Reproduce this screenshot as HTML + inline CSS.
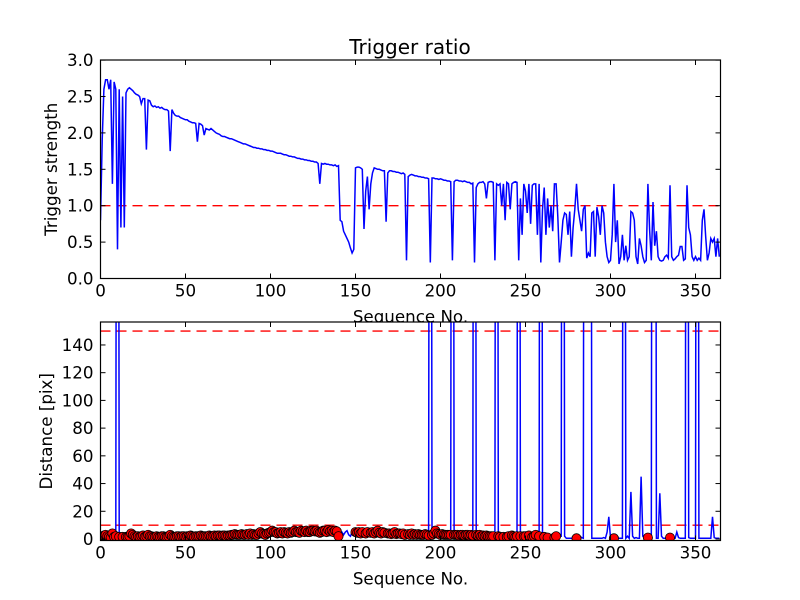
<!DOCTYPE html>
<html><head><meta charset="utf-8"><style>
html,body{margin:0;padding:0;background:#fff;}
svg{display:block;font-family:"DejaVu Sans","Liberation Sans",sans-serif;}
</style></head><body>
<svg id="fig" width="800" height="600" viewBox="0 0 800 600" xmlns="http://www.w3.org/2000/svg">
<defs>
<clipPath id="clipTop"><rect x="100.5" y="60" width="620" height="218.5"/></clipPath>
<clipPath id="clipBot"><rect x="100.5" y="322" width="620" height="218.5"/></clipPath>
</defs>
<rect x="0" y="0" width="800" height="600" fill="#fff"/>
<text x="410" y="54" font-size="20" text-anchor="middle">Trigger ratio</text>
<g id="topAx"></g>
<g id="botAx"></g>
</svg>
<script>
const strength = [
0.8,1.9,2.6,2.73,2.73,2.6,2.73,1.3,2.7,2.6,
0.4,2.6,0.7,2.5,0.7,2.55,2.6,2.62,2.6,2.58,
2.55,2.53,2.52,2.5,2.4,2.47,2.47,1.77,2.45,2.44,
2.38,2.36,2.37,2.35,2.36,2.34,2.35,2.33,2.32,2.32,
2.3,1.75,2.32,2.27,2.24,2.23,2.23,2.21,2.2,2.19,
2.18,2.18,2.16,2.15,2.14,2.14,2.13,1.88,2.13,2.12,
2.1,1.97,2.06,2.05,2.04,2.06,2.04,2.02,2.0,1.99,
1.98,1.96,1.95,1.95,1.94,1.93,1.92,1.92,1.91,1.9,
1.89,1.88,1.87,1.86,1.85,1.85,1.84,1.83,1.82,1.81,
1.8,1.8,1.79,1.79,1.78,1.78,1.77,1.77,1.76,1.76,
1.75,1.75,1.74,1.73,1.72,1.72,1.72,1.71,1.7,1.7,
1.69,1.68,1.68,1.67,1.67,1.66,1.65,1.65,1.64,1.64,
1.63,1.63,1.62,1.62,1.61,1.61,1.6,1.6,1.58,1.3,
1.58,1.57,1.58,1.57,1.57,1.56,1.56,1.55,1.56,1.54,
1.55,0.8,0.78,0.65,0.6,0.55,0.5,0.42,0.35,0.4,
1.52,1.53,1.53,1.52,1.5,0.68,1.2,1.4,0.95,1.3,
1.45,1.52,1.51,1.5,1.5,1.49,1.48,1.48,0.78,1.45,
1.48,1.48,1.47,1.47,1.46,1.46,1.45,1.44,1.45,1.43,
0.25,1.4,1.42,1.43,1.42,1.41,1.41,1.4,1.4,1.39,
1.39,1.38,1.38,1.37,0.22,1.38,1.38,1.37,1.37,1.36,
1.37,1.36,1.35,1.35,1.34,1.34,1.33,0.25,1.33,1.35,
1.35,1.34,1.34,1.33,1.34,1.33,1.32,1.32,1.3,1.31,
0.22,1.25,1.3,1.32,1.32,1.33,1.3,1.1,1.32,1.33,
1.33,1.32,0.25,1.3,1.28,
1.3,1.0,1.3,0.8,1.32,1.3,0.95,1.3,1.32,1.33,
1.32,0.25,1.1,0.6,1.3,1.2,0.9,1.3,0.75,1.28,
1.3,1.3,0.6,1.3,0.22,0.95,1.25,0.6,1.1,0.7,
1.0,0.65,1.3,1.3,0.85,0.22,0.5,0.8,0.9,0.88,
0.6,0.92,0.3,0.7,0.95,1.3,0.95,0.8,0.65,0.95,
1.0,0.28,0.35,0.3,0.9,0.92,0.3,0.98,0.85,0.6,
1.0,0.9,0.5,0.3,0.22,
0.25,0.6,1.3,0.5,0.8,0.2,0.3,0.6,0.25,0.45,
0.25,0.3,0.92,0.9,0.8,0.3,0.2,0.55,0.45,0.3,
0.22,0.25,1.3,0.67,0.25,1.05,0.45,0.65,0.3,0.25,
0.24,0.25,0.3,0.32,0.28,1.28,0.3,0.25,0.27,0.3,
0.32,0.44,0.44,0.25,0.27,1.28,0.7,0.6,0.3,0.25,
0.3,0.25,0.28,0.25,0.8,0.95,0.57,0.25,0.35,0.55,
0.5,0.55,0.3,0.55,0.3];
const distance = [
2,1.5,2.5,3,2,1.5,1,4,1.5,2,
999,1.5,2,1.5,2,1.5,1.5,2,4,3,
2,1.5,2,1.5,2,2.5,1.5,2,3,2,
2,1.5,1.5,2,1.5,1.5,2,2,1.5,1.5,
2,3,2,1.5,1.5,2,2,1.5,2,2,
1.5,2,2,2.5,2,1.5,2,2,2,2.5,
2,2,2,2,2.5,2,2,2.5,2,2.5,
2.5,2,2.5,2.5,2,2.5,2.5,3,3,3.5,
3,3,3,3.5,3,3,3.5,3,4,3,
3.5,3,3,4,5,4,3.5,3,4,4.5,
5,6,5,5,4,4.5,5,4,5,4.5,
4,5,4.5,5,6,5,5,4.5,6,5.5,
5,6,5,5,6,6,5.5,6,5,4.5,
5,6,6,5,6.5,5.5,6,5,6,5.5,
2,4,5,3,5,6,3,2,5,6,
5,4.5,5,4,5,3,4,5,3,4.5,
5,4,5,6,4.5,4,5,4.5,3,4,
4,3.5,4,5,3.5,4,4,3.5,4,3,
2,3.5,3,4,3,3.5,3,3.5,3,3,
3,3.5,3,2.5,999,3,4,6,4,3.5,
3,3.5,3,3,3,3,3,999,3,3,
3,2.5,3,3,2.5,3,3,2.5,3,2.5,
999,3,2.5,3,2,2.5,2,2.5,2,2,
2,2,2,999,2,1.5,2,1.5,2,1.5,
2,1.5,2.5,2,1.5,2,999,2,1.5,2,
2,2,2.5,2,1.5,2,3,3,2,999,
2,1.5,1,1,0.5,1,1,1,2,1,
2,2,999,2,0.5,0.5,0.5,0.5,0.5,0.5,
0.5,1,2,1,0.5,999,999,999,999,0.5,
0.5,0.5,0.5,0.5,0.5,0.5,1,0.5,5,16,
0.5,0.5,0.5,0.5,1,0.5,0.5,0.5,999,0.5,
2,0.5,34,2,0.5,1,0.5,0.5,45,2,
0.5,0.5,1,0.5,0.5,999,999,0.5,0.5,33,
2,0.5,0.5,0.5,0.5,1,0.5,0.5,0.5,5,
1,0.5,0.5,0.5,0.5,999,1,0.5,0.5,0.5,
0.5,999,0.5,0.5,0.5,0.5,0.5,0.5,0.5,0.5,
16,1,0.5,0.5,0.5];
const xTicks = [0,50,100,150,200,250,300,350];
const topYTicks = [0.0,0.5,1.0,1.5,2.0,2.5,3.0];
const botYTicks = [0,20,40,60,80,100,120,140];
const topThreshold = [1.0];
const botThresholds = [10,150];

const NS='http://www.w3.org/2000/svg';
const L=100.5,R=720.5;
const xS=i=>L+i*(R-L)/364.7;
const yTop=v=>278.5-v*(218.4/3);
const yBot=v=>539-v*1.386;
function mk(tag,attrs,parent){const e=document.createElementNS(NS,tag);for(const k in attrs)e.setAttribute(k,attrs[k]);parent.appendChild(e);return e;}

function axes(g,top,bot,yS,yTicks,fmt,ylabel,clip,ylx){
  mk('rect',{x:L,y:top,width:R-L,height:bot-top,fill:'#fff'},g);
  const plot=mk('g',{'clip-path':'url(#'+clip+')'},g);
  xTicks.forEach(t=>{
    const x=xS(t);
    const a=mk('line',{x1:x,x2:x,y1:bot,y2:bot-5,stroke:'#000','stroke-width':1},g);
    
    
    mk('line',{x1:x,x2:x,y1:top,y2:top+5,stroke:'#000','stroke-width':1},g);
    const tx=mk('text',{x:x,y:bot+18,'font-size':16.7,'text-anchor':'middle'},g);
    tx.textContent=String(t);
    
    
  });
  yTicks.forEach(t=>{
    const y=yS(t);
    const a=mk('line',{x1:L,x2:L+5,y1:y,y2:y,stroke:'#000','stroke-width':1},g);
    
    
    mk('line',{x1:R,x2:R-5,y1:y,y2:y,stroke:'#000','stroke-width':1},g);
    const tx=mk('text',{x:L-7,y:y+6,'font-size':16.7,'text-anchor':'end'},g);
    tx.textContent=fmt(t);
    
    
  });
  const xl=mk('text',{x:(L+R)/2,y:bot+44,'font-size':16.7,'text-anchor':'middle'},g);
  xl.textContent='Sequence No.';
  
  
  const cy=(top+bot)/2;
  const yl=mk('text',{x:0,y:0,'font-size':16.7,'text-anchor':'middle',transform:'translate('+ylx+','+cy+') rotate(-90)'},g);
  yl.textContent=ylabel;
  
  
  return plot;
}
function frame(g,top,bot){
  const f=mk('rect',{x:L,y:top,width:R-L,height:bot-top,fill:'none',stroke:'#000','stroke-width':1.2},g);
  
  
}

// top
const gT=document.getElementById('topAx');
const pT=axes(gT,60,278.5,yTop,topYTicks,v=>v.toFixed(1),'Trigger strength','clipTop',57);
topThreshold.forEach(v=>{
  const l=mk('line',{x1:L,x2:R,y1:yTop(v),y2:yTop(v),stroke:'#ff0000','stroke-width':1.4,'stroke-dasharray':'10 6'},pT);
  
  
});
const sp=mk('polyline',{points:strength.map((v,i)=>xS(i).toFixed(2)+','+yTop(v).toFixed(2)).join(' '),fill:'none',stroke:'#0000ff','stroke-width':1.5},pT);


frame(gT,60,278.5);

// bottom
const gB=document.getElementById('botAx');
const pB=axes(gB,322,540.5,yBot,botYTicks,v=>String(v),'Distance [pix]','clipBot',52);
botThresholds.forEach(v=>{
  const l=mk('line',{x1:L,x2:R,y1:yBot(v),y2:yBot(v),stroke:'#ff0000','stroke-width':1.4,'stroke-dasharray':'10 6'},pB);
  
  
});
const dp=mk('polyline',{points:distance.map((v,i)=>xS(i).toFixed(2)+','+yBot(v).toFixed(2)).join(' '),fill:'none',stroke:'#0000ff','stroke-width':1.5},pB);


distance.forEach((v,i)=>{
  if(strength[i]>topThreshold[0]){
    const c=mk('circle',{cx:xS(i),cy:yBot(v),r:4.6,fill:'#ff0000',stroke:'#000','stroke-width':0.8},pB);
    
    
  }
});
frame(gB,322,540.5);
</script>
</body></html>
